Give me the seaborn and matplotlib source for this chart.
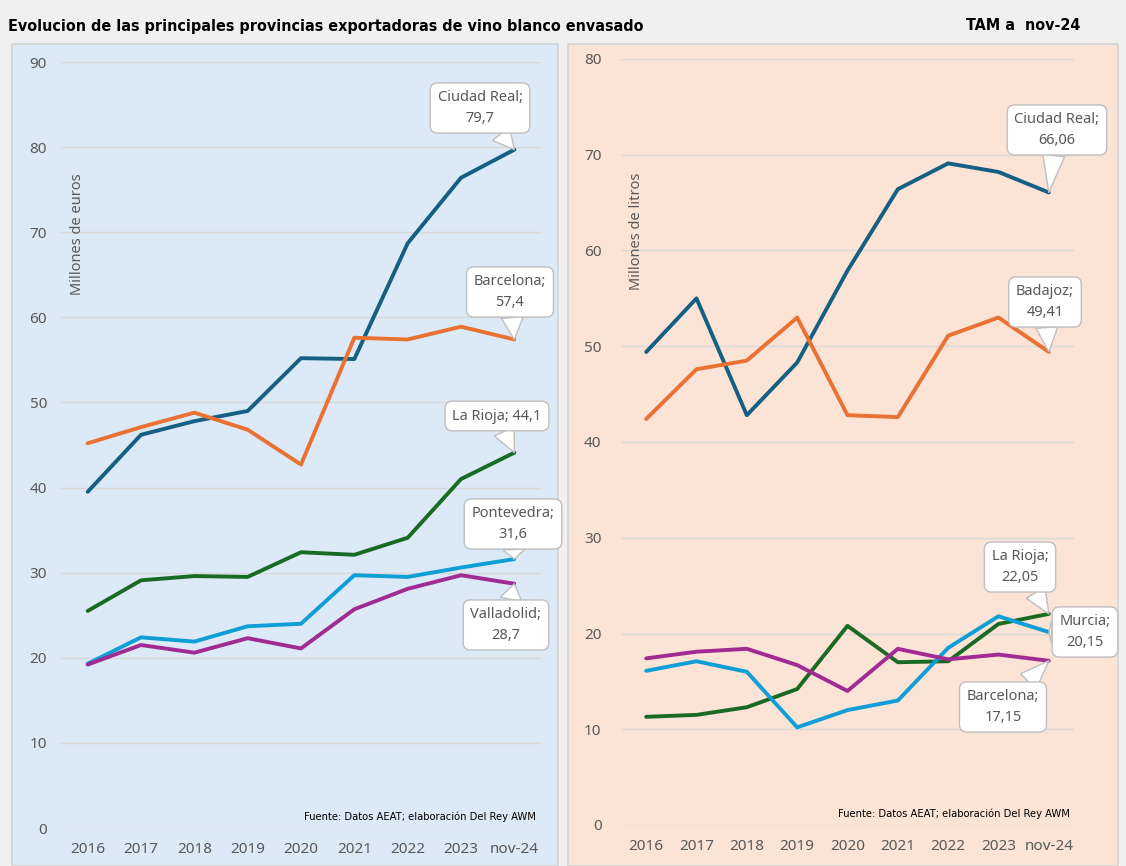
import pandas as pd
import matplotlib.pyplot as plt
import matplotlib.font_manager as fm
from matplotlib.patches import Rectangle
import seaborn as sns

# datos (TAM a nov-24)
periodos = ["2016", "2017", "2018", "2019", "2020", "2021", "2022", "2023", "nov-24"]

euros_ciudad_real = [39.5, 46.2, 47.8, 49.0, 55.2, 55.1, 68.7, 76.4, 79.7]
euros_barcelona = [45.2, 47.1, 48.8, 46.8, 42.7, 57.6, 57.4, 58.9, 57.4]
euros_la_rioja = [25.5, 29.1, 29.6, 29.5, 32.4, 32.1, 34.1, 41.0, 44.1]
euros_pontevedra = [19.3, 22.4, 21.9, 23.7, 24.0, 29.7, 29.5, 30.6, 31.6]
euros_valladolid = [19.2, 21.5, 20.6, 22.3, 21.1, 25.7, 28.1, 29.7, 28.7]

litros_ciudad_real = [49.4, 55.0, 42.8, 48.3, 57.9, 66.4, 69.1, 68.2, 66.06]
litros_badajoz = [42.4, 47.6, 48.5, 53.0, 42.8, 42.6, 51.1, 53.0, 49.41]
litros_la_rioja = [11.3, 11.5, 12.3, 14.2, 20.8, 17.0, 17.1, 21.0, 22.05]
litros_murcia = [16.1, 17.1, 16.0, 10.2, 12.0, 13.0, 18.5, 21.8, 20.15]
litros_barcelona = [17.4, 18.1, 18.4, 16.7, 14.0, 18.4, 17.3, 17.8, 17.15]

euros = {
    "Ciudad Real": euros_ciudad_real,
    "Barcelona": euros_barcelona,
    "La Rioja": euros_la_rioja,
    "Pontevedra": euros_pontevedra,
    "Valladolid": euros_valladolid,
}
litros = {
    "Ciudad Real": litros_ciudad_real,
    "Badajoz": litros_badajoz,
    "La Rioja": litros_la_rioja,
    "Murcia": litros_murcia,
    "Barcelona": litros_barcelona,
}

col_euros = {"Ciudad Real": "#156082", "Barcelona": "#E97132", "La Rioja": "#196B24",
             "Pontevedra": "#0F9ED5", "Valladolid": "#A02B93"}
col_litros = {"Ciudad Real": "#156082", "Badajoz": "#E97132", "La Rioja": "#196B24",
              "Murcia": "#0F9ED5", "Barcelona": "#A02B93"}

# posicion de las etiquetas (pixeles desde arriba)
pos_euros = {"Ciudad Real": (480, 108), "Barcelona": (510, 292), "La Rioja": (497, 416),
             "Pontevedra": (513, 524), "Valladolid": (506, 625)}
pos_litros = {"Ciudad Real": (1057, 130), "Badajoz": (1045, 302), "La Rioja": (1020, 567),
              "Murcia": (1085, 632), "Barcelona": (1003, 707)}

sns.set_theme(style="white")
disponibles = {f.name for f in fm.fontManager.ttflist}
estrecha = ["Liberation Sans Narrow", "DejaVu Sans"] if "Liberation Sans Narrow" in disponibles else ["DejaVu Sans"]
plt.rcParams["font.family"] = ["Noto Sans", "DejaVu Sans"]

W, H = 1126, 866
fig = plt.figure(figsize=(W / 100, H / 100), dpi=100)
fig.patch.set_facecolor("#f0f0f0")

# paneles de fondo
fig.add_artist(Rectangle((12 / W, 0), 546 / W, (H - 44) / H, transform=fig.transFigure,
                         facecolor="#dce9f6", edgecolor="#d4d4d4", lw=1.2, zorder=0))
fig.add_artist(Rectangle((568 / W, 0), 550 / W, (H - 44) / H, transform=fig.transFigure,
                         facecolor="#fbe3d6", edgecolor="#d4d4d4", lw=1.2, zorder=0))

fig.text(8 / W, 1 - 26 / H, "Evolucion de las principales provincias exportadoras de vino blanco envasado",
         family=estrecha, fontstretch="condensed", weight="bold", fontsize=11.5, va="center", color="black")
fig.text(1080 / W, 1 - 26 / H, "TAM a  nov-24", family=estrecha, fontstretch="condensed",
         weight="bold", fontsize=11.5, va="center", ha="right", color="black")

ax1 = fig.add_axes([61 / W, 38 / H, 480 / W, 766 / H])
ax2 = fig.add_axes([621 / W, 41 / H, 453 / W, 766 / H])


def panel(ax, datos, colores, posiciones, ymax, ylabel, dec, una_linea, ypad):
    df = pd.DataFrame(datos)
    df["pos"] = range(len(periodos))
    largo = df.melt(id_vars="pos", var_name="provincia", value_name="valor")
    sns.lineplot(data=largo, x="pos", y="valor", hue="provincia", palette=colores,
                 linewidth=2.8, legend=False, ax=ax, sort=False)
    ax.set_facecolor("none")
    ax.set_xlim(-0.5, len(periodos) - 0.5)
    ax.set_ylim(0, ymax)
    ax.set_xticks(range(len(periodos)))
    ax.set_xticklabels(periodos)
    ax.set_yticks(range(0, ymax + 1, 10))
    ax.grid(axis="y", color="#d9d9d9", lw=1)
    ax.set_axisbelow(True)
    for s in ax.spines.values():
        s.set_visible(False)
    ax.tick_params(axis="x", length=0, pad=10, labelsize=11, labelcolor="#595959")
    ax.tick_params(axis="y", length=0, pad=ypad, labelsize=11, labelcolor="#595959")
    ax.set_xlabel("")
    ax.set_ylabel("")
    ax.text(0.035, 0.775, ylabel, transform=ax.transAxes, rotation=90, ha="center", va="center",
            fontsize=10.5, color="#595959")
    ax.text(0.99, 0.015, "Fuente: Datos AEAT; elaboración Del Rey AWM", transform=ax.transAxes,
            ha="right", va="center", fontsize=8, family=estrecha, fontstretch="condensed", color="black")
    for nombre, valores in datos.items():
        v = f"{valores[-1]:.{dec}f}".replace(".", ",")
        sep = " " if nombre in una_linea else "\n"
        px, py = posiciones[nombre]
        ax.annotate(f"{nombre};{sep}{v}", xy=(len(periodos) - 1, valores[-1]),
                    xytext=(px, H - py), textcoords="figure pixels",
                    ha="center", va="center", fontsize=10.5, color="#595959", linespacing=1.5,
                    bbox=dict(boxstyle="round,pad=0.5,rounding_size=0.5", fc="white", ec="#bfbfbf", lw=1),
                    arrowprops=dict(arrowstyle="wedge,tail_width=1.5", fc="white", ec="#bfbfbf", lw=1,
                                    shrinkA=0, shrinkB=0),
                    zorder=5)


panel(ax1, euros, col_euros, pos_euros, 90, "Millones de euros", 1, ["La Rioja"], 10)
panel(ax2, litros, col_litros, pos_litros, 80, "Millones de litros", 2, [], 14)

fig.savefig("out.png", dpi=100, facecolor=fig.get_facecolor())
